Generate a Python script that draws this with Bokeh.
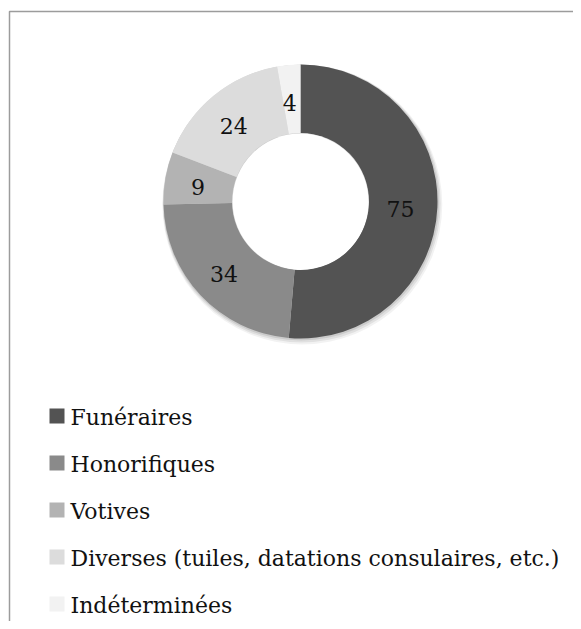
import math
from bokeh.plotting import figure
from bokeh.models import Range1d, ColumnDataSource
from bokeh.core.properties import value
from bokeh.embed import file_html
from bokeh.resources import INLINE

categories = ["Funéraires", "Honorifiques", "Votives",
              "Diverses (tuiles, datations consulaires, etc.)", "Indéterminées"]
counts = [75, 34, 9, 24, 4]
colors = ["#535353", "#8a8a8a", "#b3b3b3", "#dcdcdc", "#f2f2f2"]

W, H = 573, 621
FONT = "DejaVu Serif"

p = figure(width=W, height=H, output_backend="svg", toolbar_location=None,
           x_range=Range1d(0, W), y_range=Range1d(0, H), min_border=0,
           outline_line_color=None)
p.axis.visible = False
p.grid.visible = False

def sx(x):
    return x

def sy(y):
    return H - y

# frame border
p.line(x=[sx(9), sx(9), sx(700)], y=[sy(700), sy(11), sy(11)],
       line_color="#9c9c9c", line_width=1.5)

cx, cy = sx(300), sy(201)
r_out, r_in = 137, 68.5
total = sum(counts)

starts, ends, mids = [], [], []
cum = 0
for c in counts:
    a0 = math.pi / 2 - cum * 2 * math.pi / total
    cum += c
    a1 = math.pi / 2 - cum * 2 * math.pi / total
    starts.append(a1)
    ends.append(a0)
    mids.append((a0 + a1) / 2)

# soft shadow
for k, al in [(3, 0.05), (2, 0.07), (1, 0.09)]:
    p.annular_wedge(x=cx + k * 0.6, y=cy - k, inner_radius=r_in - k, outer_radius=r_out + k,
                    start_angle=0, end_angle=2 * math.pi, fill_color="#000000",
                    fill_alpha=al, line_color=None)

src = ColumnDataSource(dict(start=starts, end=ends, color=colors))
p.annular_wedge(x=cx, y=cy, inner_radius=r_in, outer_radius=r_out,
                start_angle="start", end_angle="end", fill_color="color",
                line_color=None, source=src)
# white hole
p.circle(x=cx, y=cy, radius=r_in - 0.5, fill_color="white", line_color=None)

r_lab = 102
lx = [cx + r_lab * math.cos(m) - 2 for m in mids]
ly = [cy + r_lab * math.sin(m) - 3 for m in mids]
p.text(x=lx, y=ly, text=[str(c) for c in counts], text_font=value(FONT),
       text_font_size="22px", text_color="#111111", text_align="center",
       text_baseline="middle")

# legend
leg_y = [sy(415.5 + 47 * i) for i in range(len(categories))]
p.rect(x=[sx(56.5)] * len(categories), y=leg_y, width=15, height=15,
       fill_color=colors, line_color=None)
p.text(x=[sx(70)] * len(categories), y=[v - 1 for v in leg_y], text=categories,
       text_font=value(FONT), text_font_size="22px", text_color="#111111",
       text_align="left", text_baseline="middle")

open("out.html", "w").write(file_html(p, INLINE))
